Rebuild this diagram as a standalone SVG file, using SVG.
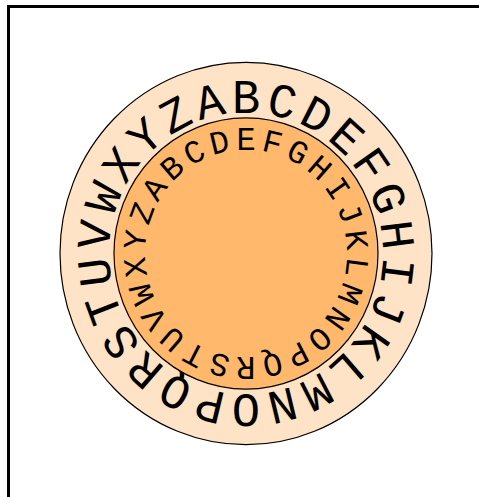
<svg xmlns="http://www.w3.org/2000/svg" width="479" height="497" viewBox="0 0 479 497">
<style>
.frame{fill:none;stroke:#000;stroke-width:3}
.disk{stroke:#000;stroke-width:1.2}
.outer text{font-family:"Liberation Mono","DejaVu Sans Mono",monospace;font-size:47px;text-anchor:middle;fill:#000}
.inner text{font-family:"Liberation Mono","DejaVu Sans Mono",monospace;font-size:32px;text-anchor:middle;fill:#000}
</style>
<rect width="479" height="497" fill="#fff"/>
<path class="frame" d="M8.5,497 V6.5 H479"/>
<g transform="translate(246,253.5) scale(1,1.028)">
<g id="outer-wheel" class="outer">
<circle class="disk" r="186" fill="#FFE3C6"/>
<text transform="rotate(-13.846) translate(0,-137)">A</text>
<text transform="rotate(0) translate(0,-137)">B</text>
<text transform="rotate(13.846) translate(0,-137)">C</text>
<text transform="rotate(27.692) translate(0,-137)">D</text>
<text transform="rotate(41.538) translate(0,-137)">E</text>
<text transform="rotate(55.385) translate(0,-137)">F</text>
<text transform="rotate(69.231) translate(0,-137)">G</text>
<text transform="rotate(83.077) translate(0,-137)">H</text>
<text transform="rotate(96.923) translate(0,-137)">I</text>
<text transform="rotate(110.769) translate(0,-137)">J</text>
<text transform="rotate(124.615) translate(0,-137)">K</text>
<text transform="rotate(138.462) translate(0,-137)">L</text>
<text transform="rotate(152.308) translate(0,-137)">M</text>
<text transform="rotate(166.154) translate(0,-137)">N</text>
<text transform="rotate(180) translate(0,-137)">O</text>
<text transform="rotate(193.846) translate(0,-137)">P</text>
<text transform="rotate(207.692) translate(0,-137)">Q</text>
<text transform="rotate(221.538) translate(0,-137)">R</text>
<text transform="rotate(235.385) translate(0,-137)">S</text>
<text transform="rotate(249.231) translate(0,-137)">T</text>
<text transform="rotate(263.077) translate(0,-137)">U</text>
<text transform="rotate(276.923) translate(0,-137)">V</text>
<text transform="rotate(290.769) translate(0,-137)">W</text>
<text transform="rotate(304.615) translate(0,-137)">X</text>
<text transform="rotate(318.462) translate(0,-137)">Y</text>
<text transform="rotate(332.308) translate(0,-137)">Z</text>
</g>
<g id="inner-wheel" class="inner">
<circle class="disk" r="132" fill="#FFB86C"/>
<text transform="rotate(-55.385) translate(0,-101)">A</text>
<text transform="rotate(-41.538) translate(0,-101)">B</text>
<text transform="rotate(-27.692) translate(0,-101)">C</text>
<text transform="rotate(-13.846) translate(0,-101)">D</text>
<text transform="rotate(0) translate(0,-101)">E</text>
<text transform="rotate(13.846) translate(0,-101)">F</text>
<text transform="rotate(27.692) translate(0,-101)">G</text>
<text transform="rotate(41.538) translate(0,-101)">H</text>
<text transform="rotate(55.385) translate(0,-101)">I</text>
<text transform="rotate(69.231) translate(0,-101)">J</text>
<text transform="rotate(83.077) translate(0,-101)">K</text>
<text transform="rotate(96.923) translate(0,-101)">L</text>
<text transform="rotate(110.769) translate(0,-101)">M</text>
<text transform="rotate(124.615) translate(0,-101)">N</text>
<text transform="rotate(138.462) translate(0,-101)">O</text>
<text transform="rotate(152.308) translate(0,-101)">P</text>
<text transform="rotate(166.154) translate(0,-101)">Q</text>
<text transform="rotate(180) translate(0,-101)">R</text>
<text transform="rotate(193.846) translate(0,-101)">S</text>
<text transform="rotate(207.692) translate(0,-101)">T</text>
<text transform="rotate(221.538) translate(0,-101)">U</text>
<text transform="rotate(235.385) translate(0,-101)">V</text>
<text transform="rotate(249.231) translate(0,-101)">W</text>
<text transform="rotate(263.077) translate(0,-101)">X</text>
<text transform="rotate(276.923) translate(0,-101)">Y</text>
<text transform="rotate(290.769) translate(0,-101)">Z</text>
</g>
</g>
</svg>
